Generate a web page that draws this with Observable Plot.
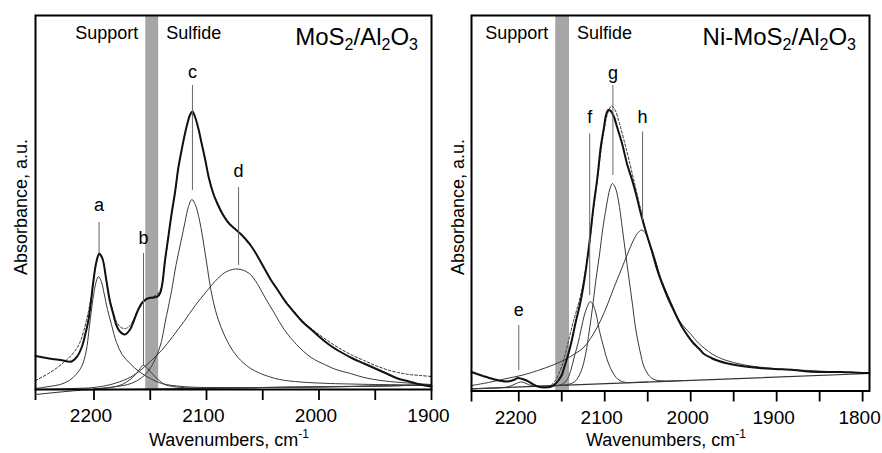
<!DOCTYPE html>
<html><head><meta charset="utf-8">
<script src="https://cdn.jsdelivr.net/npm/d3@7"></script>
<script src="https://cdn.jsdelivr.net/npm/@observablehq/plot@0.6"></script>
<style>
body{margin:0;background:#fff;}
#wrap{display:flex;width:882px;height:453px;overflow:hidden;}
#wrap svg{display:block;flex:none;overflow:visible;}
</style></head><body><div id="wrap"></div>
<script>
const FONT = "'Liberation Sans', Arial, Helvetica, sans-serif";

// ---------- Left panel: MoS2/Al2O3 ----------  [wavenumber, absorbance a.u.]
const leftExp = [[2252,33.5],[2240,31],[2230,29.5],[2220,28],[2215,33],[2211,42],[2208,54],[2205,69],[2203,85],[2200.7,107],[2198,127],[2195.3,136],[2192.5,131],[2189,109],[2186,89],[2183,76],[2180,64],[2177,58],[2172.5,55],[2168,60],[2164.5,69],[2161,79],[2157,87],[2152.5,91],[2147,92],[2143.5,93],[2141,97],[2139,108],[2137,128],[2134,152],[2131,176],[2128,197],[2125,222],[2122,240],[2119.5,254],[2117,266],[2114.5,275],[2112.5,278],[2110,272],[2107,260],[2104.5,247],[2101,229],[2098,212],[2094,196],[2090,185],[2085,174],[2080,166],[2075,161],[2070,156],[2065,150],[2060,143],[2055,134],[2049,122],[2043,110],[2037,100],[2030,88],[2022,77],[2015,68],[2008,61],[2000,53],[1990,44],[1980,37],[1970,31],[1960,26],[1950,21],[1940,16],[1930,11],[1920,8],[1910,5],[1900,3]];
const leftFit = [[2252,9],[2239,17],[2227,27],[2218,37],[2213,46],[2209,59],[2205,78],[2202,96],[2200,112],[2198,126],[2195.3,134],[2192.5,130],[2189,109],[2186,90],[2183,78],[2180,68],[2176,62],[2172,61],[2168,64],[2164.5,71],[2161,80],[2157,87],[2152,91],[2147,93],[2143,96],[2140,103],[2137,126],[2134,152],[2131,176],[2128,197],[2125,222],[2122,240],[2119.5,254],[2117,266],[2114.5,274],[2112.5,277],[2110,272],[2107,260],[2104.5,247],[2101,229],[2098,212],[2094,197],[2090,186],[2085,175],[2080,167],[2075,161],[2070,156],[2065,150],[2060,143],[2055,134],[2049,122],[2043,110],[2037,100],[2030,89],[2022,78],[2015,69],[2008,62],[2000,55],[1990,47],[1980,40],[1970,34],[1960,29],[1950,24],[1940,20],[1930,17],[1920,15],[1910,14],[1900,13]];
const leftA = [[2252,1],[2240,3],[2230,5],[2222,9],[2216,15],[2211,23],[2207,38],[2204,64],[2201,90],[2198,108],[2196,113],[2193.5,108],[2191,96],[2188,80],[2184.5,65],[2180,47],[2175,35],[2168,26],[2160,18],[2150,11],[2140,6],[2130,4],[2115,2.5],[2100,2],[2050,2],[1970,3],[1900,4.5]];
const leftB = [[2200,0.5],[2185,2],[2175,5],[2168,10],[2163,15],[2159,21],[2156.5,24],[2154,23],[2150,18],[2146,13],[2142,9],[2137,5],[2130,3],[2115,1.5],[2100,1.5],[2050,2],[1970,3],[1900,4.5]];
const leftC = [[2200,0.5],[2170,5],[2160,10],[2152,18],[2145,32],[2140,48],[2137,66],[2134,82],[2131,99],[2127,125],[2122.5,149],[2119,168],[2116,183],[2113,190],[2110,185],[2106,168],[2102,142],[2099,120],[2096,99],[2092,79],[2087,62],[2080,45],[2072,32],[2062,22],[2052,16],[2035,10],[2016,7.5],[1990,6],[1972,5.5],[1950,5],[1900,4.5]];
const leftD = [[2252,0],[2220,1],[2200,2],[2185,5],[2170,11],[2160,18],[2150,28],[2140,39],[2130,53],[2120,68],[2110,84],[2100,98],[2090,111],[2082,118],[2072,120.5],[2062,116],[2055,106],[2048,92],[2040,77],[2031,60],[2020,45],[2007,32],[1995,25],[1985,20],[1972,16],[1960,12],[1945,9],[1927,7],[1900,5]];
const leftBaseline = [[2252,-5],[2230,-2.5],[2210,-0.5],[2150,0.5],[2050,2],[1950,3.5],[1900,4.5]];
const leftBand = [2154, 2142.5];
const leftTicks = [2252,2200,2150,2100,2050,2000,1950,1900];
const leftMarkers = [
  {label:"a", w:2195.5, y1:136, y2:167, ly:184},
  {label:"b", w:2156, y1:24, y2:136, ly:151},
  {label:"c", w:2112.5, y1:199, y2:304, ly:317},
  {label:"d", w:2071.5, y1:124, y2:202, ly:218}
];

// ---------- Right panel: Ni-MoS2/Al2O3 ----------
const rightExp = [[2255,19],[2245,16],[2232,12.5],[2220,10],[2213,9.5],[2206,11],[2201,13],[2196,12],[2191,10.5],[2185,7.5],[2178,4.5],[2170,3.5],[2162,4.5],[2157,7.5],[2154,10.5],[2150,16],[2147,24],[2143,35],[2139.6,46],[2134,68],[2128,90],[2123,115],[2118.3,145],[2113,185],[2108.6,213],[2104.5,245],[2101,263],[2098.5,276],[2095.8,281],[2093,280],[2089.7,275],[2085.3,263],[2080,248],[2073.7,226],[2068.5,212],[2063,195],[2058.2,178],[2051,156],[2042.8,134],[2036,114],[2030,101],[2023.4,88],[2016,74],[2010,64],[2004,56],[1998,49],[1990,42],[1984.6,37],[1976,33],[1969,30.5],[1957,27.5],[1941,25],[1920,23],[1902,22],[1880,21],[1863,19.5],[1845,19],[1825,19],[1810,18.5],[1798,18],[1792,18]];
const rightFit = [[2162,6],[2157,11],[2153,18],[2149,27],[2145,40],[2141,54],[2137,68],[2133,80],[2128,96],[2123,118],[2118,146],[2113,182],[2108,215],[2104,243],[2100,265],[2096,279],[2092,285],[2088,281],[2083,268],[2078,252],[2072,232],[2066,210],[2060,188],[2054,166],[2048,148],[2042,132],[2036,116],[2030,102],[2024,89],[2017,75],[2010,64],[2000,51],[1990,42]];
const rightE = [[2255,2.2],[2235,2.8],[2222,3.2],[2214,4],[2208,5.5],[2203,7.5],[2198,9],[2194,8.5],[2189,6.5],[2184,5],[2178,4.8],[2165,5],[2150,5.7]];
const rightF = [[2165,5],[2155,5.5],[2150,6.5],[2146,9],[2143,12.5],[2139,22],[2135.5,34],[2131,48],[2127.7,61],[2123,78],[2119,87],[2117,89.5],[2114,87],[2110,77],[2106.4,61],[2101,43],[2096.7,30],[2091,19],[2085,12],[2079,9.2],[2073.5,8.4],[2065,8.6],[2050,9]];
const rightG = [[2150,5.7],[2143,6.5],[2135.5,9],[2130,15],[2125.8,24],[2122,38],[2118,60],[2114,85],[2110.3,111],[2106,137],[2102.5,161],[2098,185],[2094,202],[2091,207.5],[2088,204],[2084,190],[2079.3,161],[2075.5,136],[2071.6,111],[2067.5,85],[2063.8,61],[2059,40],[2054.2,24],[2048,15],[2042.6,11.5],[2036,10.3],[2025,10],[2010,10.5]];
const rightH = [[2255,5.5],[2235,8.5],[2217,12],[2195,16],[2178,20.5],[2160,26],[2147,31],[2135,37],[2124,44],[2114,56],[2104.5,71],[2097,86],[2089,104],[2081,121],[2073.5,137],[2067,150],[2062,157.5],[2057,161],[2052,157],[2048,147],[2044.8,137],[2041,125],[2035,110.5],[2026,90.5],[2018,77],[2010.5,67],[2000,57],[1991,48],[1975,37],[1960,31],[1940,26.5],[1921,24],[1890,21.5],[1863,20.5],[1830,19],[1798,17.8],[1792,17.6]];
const rightBaseline = [[2255,2.2],[1792,17.5]];
const rightBand = [2157, 2141];
const rightTicks = [2255,2200,2150,2100,2050,2000,1950,1900,1850,1800];
const rightMarkers = [
  {label:"e", w:2200, y1:20.5, y2:65.5, ly:80.5},
  {label:"f", w:2117.5, y1:95.5, y2:257, ly:274},
  {label:"g", w:2090.5, y1:215.5, y2:305.5, ly:317.5},
  {label:"h", w:2056, y1:170.5, y2:259, ly:274}
];

function makePanel(cfg) {
  const x = d => d[0], y = d => d[1];
  const comps = cfg.components.map(c => Plot.line(c, {x, y, stroke: "#3a3a3a", strokeWidth: 1, curve: "catmull-rom"}));
  const chart = Plot.plot({
    width: 441, height: 453,
    marginTop: 15, marginLeft: cfg.ml, marginRight: cfg.mr, marginBottom: cfg.mb,
    style: {fontFamily: FONT, fontSize: "19px", background: "transparent", color: "#000", overflow: "visible"},
    x: {domain: cfg.domain, ticks: cfg.ticks, tickFormat: d => d % 100 === 0 ? String(d) : "", tickSize: 11, tickPadding: 8, label: null},
    y: {domain: [0, cfg.ymax], axis: null},
    marks: [
      Plot.rect([cfg.band], {x1: d => d[0], x2: d => d[1], y1: 0, y2: cfg.ymax, fill: "#a6a6a6"}),
      Plot.line(cfg.baseline, {x, y, stroke: "#333", strokeWidth: 1.2}),
      ...comps,
      Plot.line(cfg.fit, {x, y, stroke: "#333", strokeWidth: 1, strokeDasharray: "2.5,2", curve: "catmull-rom"}),
      Plot.line(cfg.exp, {x, y, stroke: "#111", strokeWidth: 2, curve: "catmull-rom"}),
      Plot.ruleX(cfg.markers, {x: d => d.w, y1: d => d.y1, y2: d => d.y2, stroke: "#666", strokeWidth: 1}),
      Plot.text(cfg.markers, {x: d => d.w, y: d => d.ly, text: d => d.label, fontSize: 18, fill: "#000"}),
      Plot.frame({stroke: "#000", strokeWidth: 2})
    ]
  });
  const sx = chart.scale("x");
  const svg = d3.select(chart);
  // tick styling: thicker tick lines, labels nudged left as in the reference
  svg.selectAll("text").filter(function() { return /^\d{4}$/.test(this.textContent); }).attr("dx", -3);
  svg.selectAll('g[aria-label="x-axis tick"] path, g.tick line').attr("stroke-width", 1.8);
  const fx0 = cfg.ml, fx1 = 441 - cfg.mr;
  const txt = (px, py, anchor, size) => svg.append("text").attr("x", px).attr("y", py)
      .attr("text-anchor", anchor).attr("font-family", FONT).attr("font-size", size).attr("fill", "#000");
  txt(sx.apply(cfg.band[0]) - 7, 39, "end", 18).text("Support");
  txt(sx.apply(cfg.band[1]) + 8, 39, "start", 18).text("Sulfide");
  const t = txt(fx1 - 13, 45, "end", 24);
  let off = 0;
  cfg.title.forEach(([s, sub]) => {
    const target = sub ? 5 : 0;
    const ts = t.append("tspan").text(s).attr("dy", target - off);
    if (sub) ts.attr("font-size", 16);
    off = target;
  });
  const xl = txt((fx0 + fx1) / 2 - 4, 446, "middle", 18);
  xl.append("tspan").text("Wavenumbers, cm");
  xl.append("tspan").text("-1").attr("font-size", 12).attr("dy", -8);
  svg.append("text").attr("transform", `translate(${fx0 - cfg.ylx},207) rotate(-90)`)
     .attr("text-anchor", "middle").attr("font-family", FONT).attr("font-size", 18).attr("fill", "#000")
     .text("Absorbance, a.u.");
  return chart;
}

const wrap = document.getElementById("wrap");
wrap.appendChild(makePanel({
  domain: [2252, 1900], ticks: leftTicks, ml: 35, mr: 10, mb: 64, ymax: 374,
  exp: leftExp, fit: leftFit, components: [leftA, leftB, leftC, leftD], baseline: leftBaseline,
  band: leftBand, markers: leftMarkers, ylx: 8,
  title: [["MoS",0],["2",1],["/Al",0],["2",1],["O",0],["3",1]]
}));
wrap.appendChild(makePanel({
  domain: [2255, 1792], ticks: rightTicks, ml: 30, mr: 13, mb: 62.5, ymax: 375.5,
  exp: rightExp, fit: rightFit, components: [rightE, rightF, rightG, rightH], baseline: rightBaseline,
  band: rightBand, markers: rightMarkers, ylx: 7,
  title: [["Ni-MoS",0],["2",1],["/Al",0],["2",1],["O",0],["3",1]]
}));
</script></body></html>
